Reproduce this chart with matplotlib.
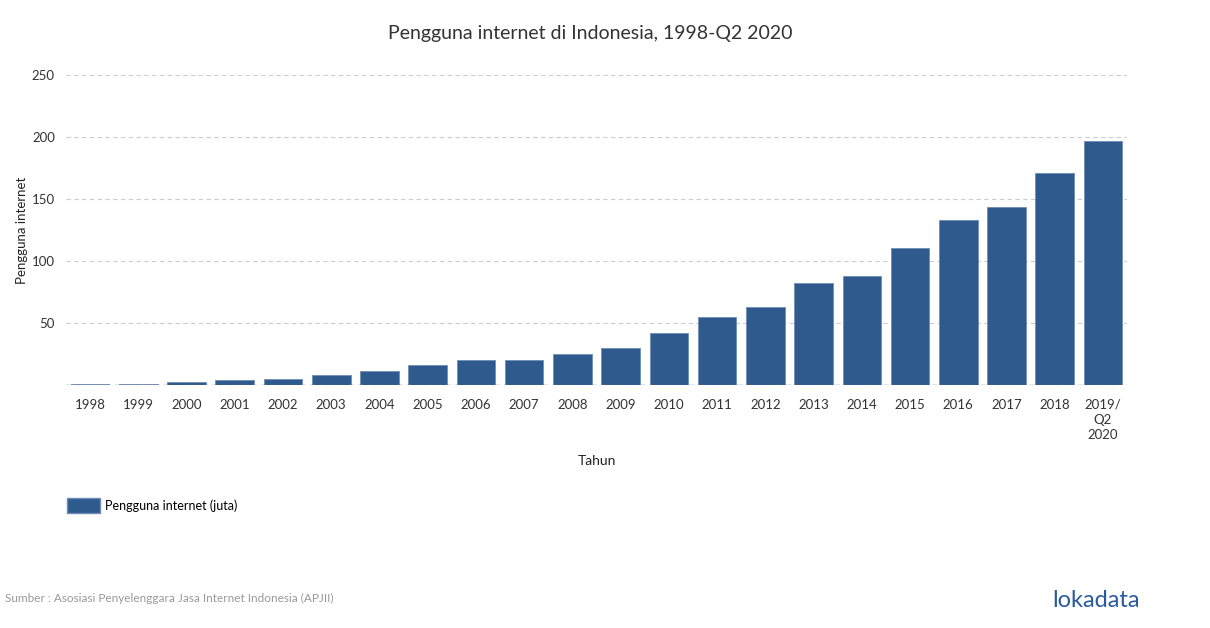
import matplotlib.pyplot as plt
from matplotlib.patches import Patch

plt.rcParams['font.family'] = ['Lato', 'DejaVu Sans']

# data
tahun = ["1998", "1999", "2000", "2001", "2002", "2003", "2004", "2005", "2006",
         "2007", "2008", "2009", "2010", "2011", "2012", "2013", "2014", "2015",
         "2016", "2017", "2018", "2019/\nQ2\n2020"]
pengguna = [0.5, 1, 2, 4.2, 4.5, 8, 11.2, 16, 20, 20, 25, 30, 42, 55, 63, 82,
            88.1, 110.2, 132.7, 143.26, 171.17, 196.7]
y_ticks = [50, 100, 150, 200, 250]

bar_color = "#2f5a8e"

fig = plt.figure(figsize=(12.1, 6.28), dpi=100)
ax = fig.add_axes([0.0545, 0.387, 0.877, 0.4935])

x = range(len(tahun))
ax.bar(x, pengguna, width=0.8, color=bar_color, edgecolor="#6f8db5", linewidth=0.6, zorder=2)

ax.set_xlim(-0.5, len(tahun) - 0.5)
ax.set_ylim(0, 250)
ax.set_yticks(y_ticks)
ax.set_yticklabels([str(v) for v in y_ticks], fontsize=9.5, color="#333333")
ax.set_xticks(list(x))
ax.set_xticklabels(tahun, fontsize=9.5, color="#333333", linespacing=1.3, va="top")
ax.tick_params(axis="both", length=0, pad=8)
ax.tick_params(axis="x", pad=10)

ax.grid(axis="y", color="#cccccc", linestyle=(0, (4, 3)), linewidth=0.8, zorder=0)
ax.axhline(0, color="#777777", linestyle=(0, (4, 3)), linewidth=1, zorder=3)
for s in ax.spines.values():
    s.set_visible(False)

ax.set_ylabel("Pengguna internet", fontsize=9.5, color="#222222")
ax.yaxis.set_label_coords(-0.036, 0.5)
ax.set_xlabel("Tahun", fontsize=10, color="#222222", labelpad=10)
fig.text(0.488, 0.947, "Pengguna internet di Indonesia, 1998-Q2 2020", fontsize=14,
         color="#333333", ha="center", va="center")

fig.legend(handles=[Patch(facecolor=bar_color, edgecolor="#6f8db5")],
           labels=["Pengguna internet (juta)"], loc="center left",
           bbox_to_anchor=(0.0555, 0.195), frameon=False, fontsize=9,
           handlelength=2.65, handleheight=1.5, handletextpad=0.4,
           borderaxespad=0, borderpad=0)

fig.text(0.004, 0.047, "Sumber : Asosiasi Penyelenggara Jasa Internet Indonesia (APJII)",
         fontsize=8.5, color="#999999", va="center")
fig.text(0.942, 0.044, "lokadata", fontsize=17, color="#2a5a9e", ha="right",
         va="center")

fig.savefig("out.png", dpi=100, facecolor="white")
